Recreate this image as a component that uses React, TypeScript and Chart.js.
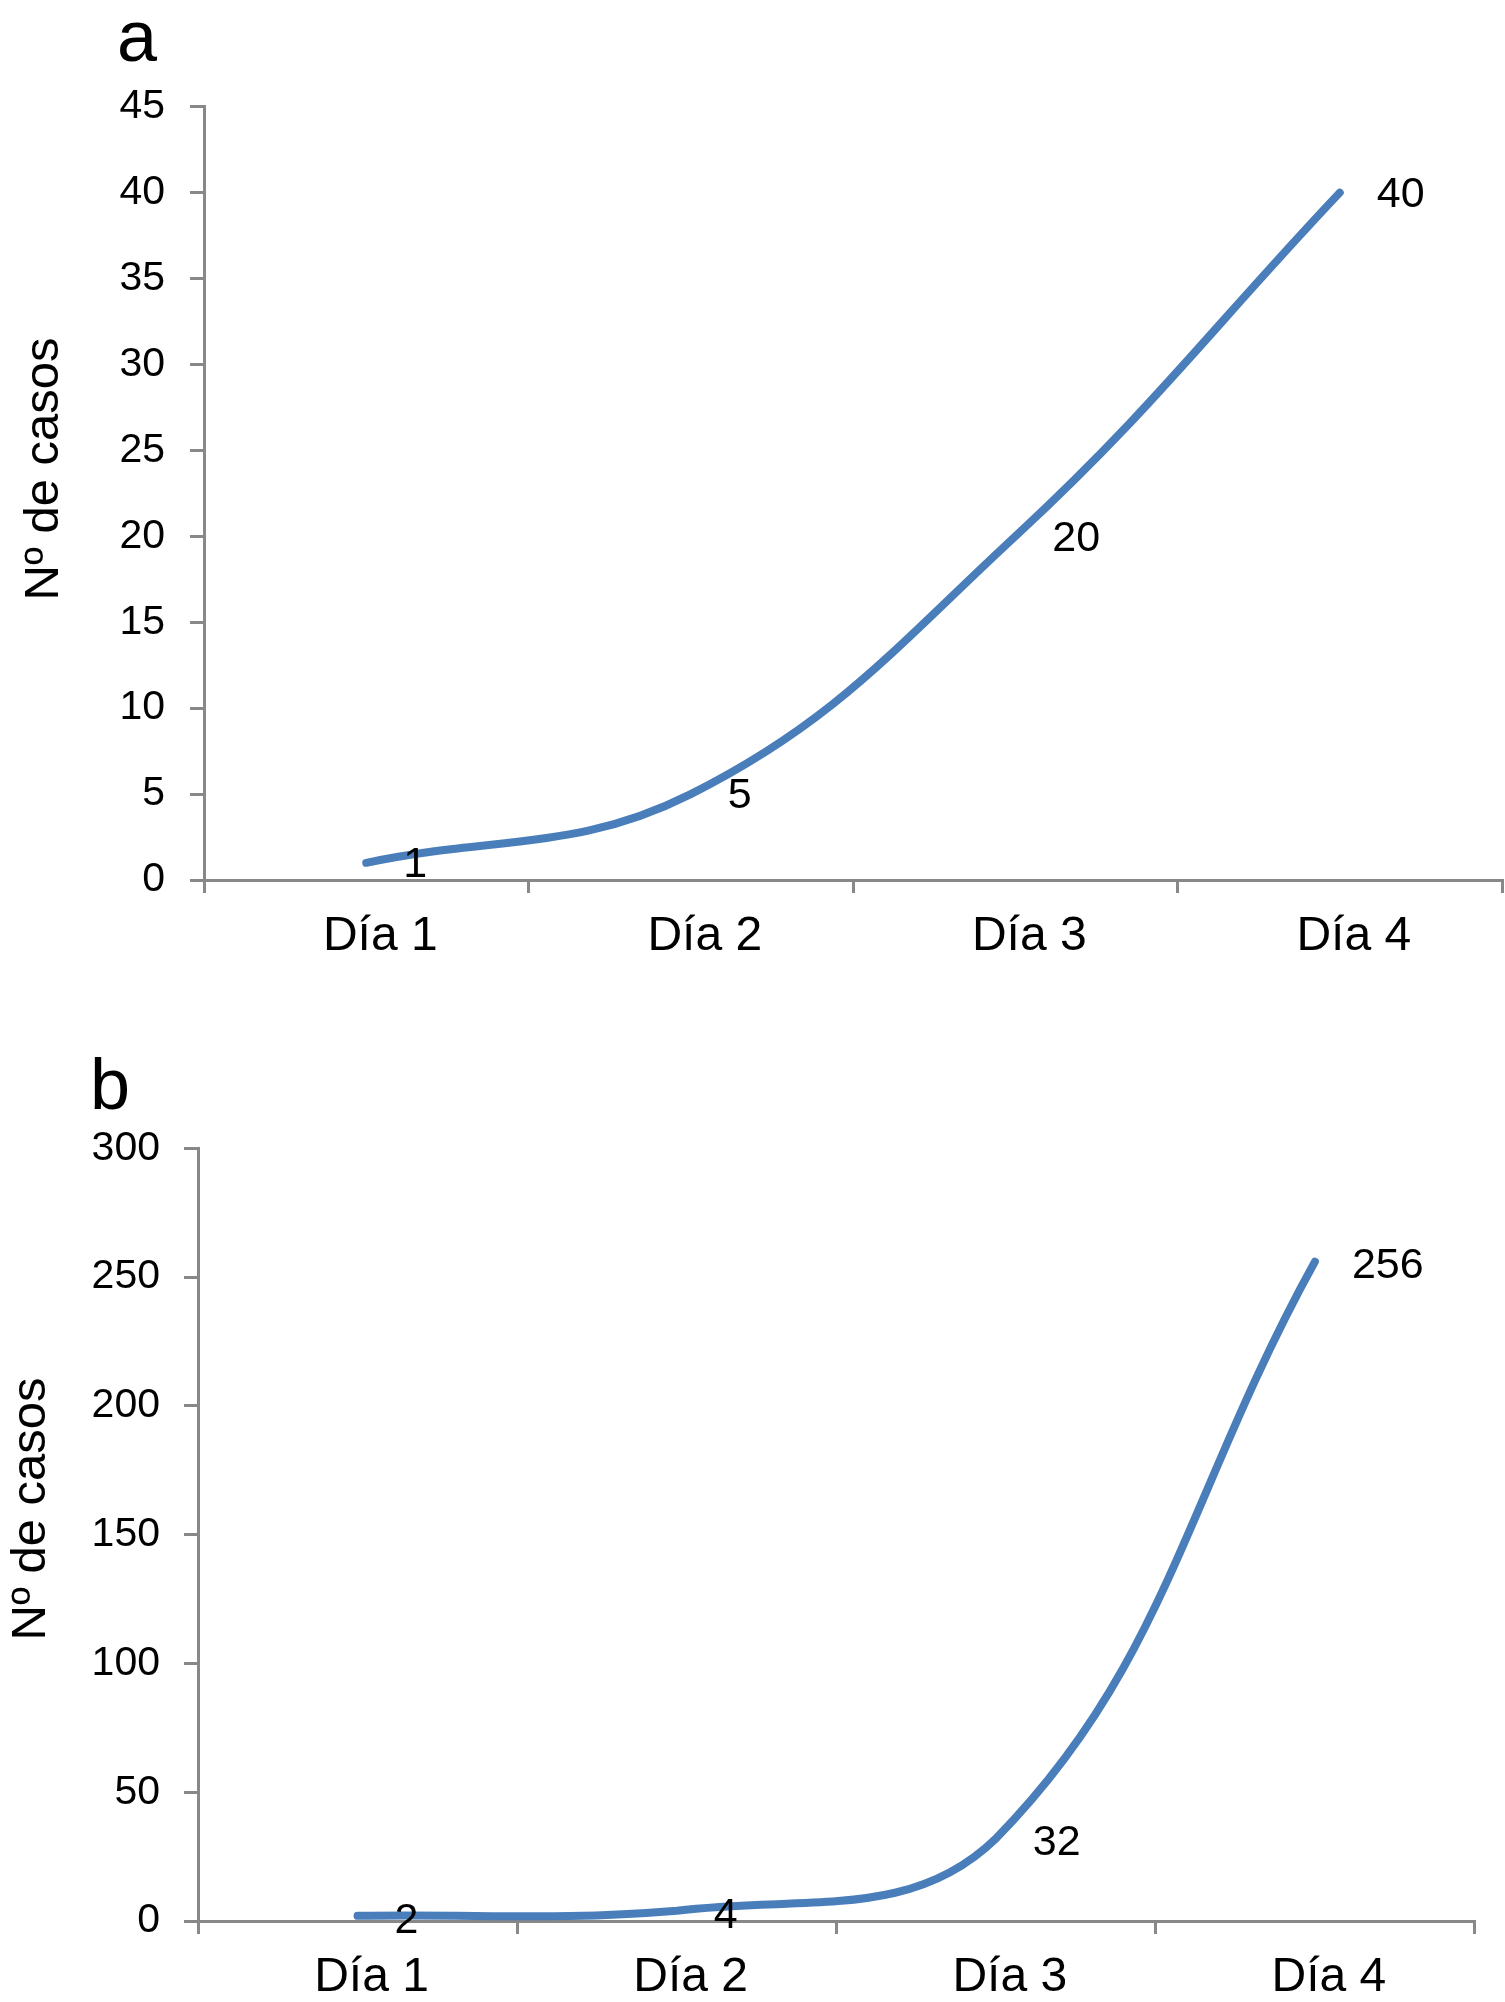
import React, { useEffect, useRef } from "react";
import { Chart, registerables } from "chart.js";

Chart.register(...registerables);

// ---------- data ----------
const categories = ["Día 1", "Día 2", "Día 3", "Día 4"];
const casesA = [1, 5, 20, 40];
const casesB = [2, 4, 32, 256];
const yAxisTitle = "Nº de casos";
const panelLetterA = "a";
const panelLetterB = "b";
const yMaxA = 45;
const yStepA = 5;
const yMaxB = 300;
const yStepB = 50;

const FONT = "'Liberation Sans', Arial, Helvetica, sans-serif";
const LINE_COLOR = "#4a7ebb";
const AXIS_COLOR = "#888888";

type PanelCfg = {
  letter: string;
  values: number[];
  yMax: number;
  yStep: number;
  canvasTop: number;
  canvasHeight: number;
  yAxisWidth: number;
  xAxisHeight: number;
  padTop: number;
  padRight: number;
  letterX: number;
  letterY: number;
  titleX: number;
  titleY: number;
  yTickPad: number;
  labelDy: number;
};

const panels: PanelCfg[] = [
  {
    letter: panelLetterA,
    values: casesA,
    yMax: yMaxA,
    yStep: yStepA,
    canvasTop: 0,
    canvasHeight: 1000,
    yAxisWidth: 204,
    xAxisHeight: 120,
    padTop: 106.7,
    padRight: 3,
    letterX: 117,
    letterY: 60.5,
    titleX: 58,
    titleY: 469,
    yTickPad: 25,
    labelDy: 2.5,
  },
  {
    letter: panelLetterB,
    values: casesB,
    yMax: yMaxB,
    yStep: yStepB,
    canvasTop: 1000,
    canvasHeight: 1002,
    yAxisWidth: 198,
    xAxisHeight: 81,
    padTop: 148.3,
    padRight: 30.5,
    letterX: 90,
    letterY: 109,
    titleX: 45,
    titleY: 509,
    yTickPad: 24,
    labelDy: 5,
  },
];

function Panel({ cfg }: { cfg: PanelCfg }) {
  const ref = useRef<HTMLCanvasElement | null>(null);

  useEffect(() => {
    if (!ref.current) return;
    const overlay = {
      id: "overlay",
      afterDatasetsDraw(chart: any) {
        const ctx = chart.ctx;
        const meta = chart.getDatasetMeta(0);
        ctx.save();
        ctx.fillStyle = "#000";
        ctx.font = `43px ${FONT}`;
        ctx.textAlign = "left";
        ctx.textBaseline = "middle";
        meta.data.forEach((pt: any, i: number) => {
          ctx.fillText(String(cfg.values[i]), pt.x + 37, pt.y + cfg.labelDy);
        });
        ctx.restore();
      },
      afterDraw(chart: any) {
        const ctx = chart.ctx;
        ctx.save();
        ctx.fillStyle = "#000";
        ctx.font = `72px ${FONT}`;
        ctx.textAlign = "left";
        ctx.textBaseline = "alphabetic";
        ctx.fillText(cfg.letter, cfg.letterX, cfg.letterY);
        ctx.translate(cfg.titleX, cfg.titleY);
        ctx.rotate(-Math.PI / 2);
        ctx.font = `49px ${FONT}`;
        ctx.textAlign = "center";
        ctx.fillText(yAxisTitle, 0, 0);
        ctx.restore();
      },
    };

    const chart = new Chart(ref.current, {
      type: "line",
      data: {
        labels: categories,
        datasets: [
          {
            data: cfg.values,
            borderColor: LINE_COLOR,
            backgroundColor: LINE_COLOR,
            borderWidth: 8,
            borderCapStyle: "round",
            borderJoinStyle: "round",
            pointRadius: 0,
            tension: 0.4,
            fill: false,
          },
        ],
      },
      options: {
        animation: false,
        responsive: false,
        devicePixelRatio: 1,
        layout: {
          padding: { top: cfg.padTop, right: cfg.padRight, bottom: 0, left: 0 },
        },
        plugins: {
          legend: { display: false },
          tooltip: { enabled: false },
          title: { display: false },
        },
        scales: {
          x: {
            type: "category",
            offset: true,
            grid: {
              offset: true,
              drawOnChartArea: false,
              drawTicks: true,
              tickLength: 13,
              color: AXIS_COLOR,
              lineWidth: 3,
            },
            border: { display: true, color: AXIS_COLOR, width: 3 },
            ticks: {
              color: "#000",
              font: { family: FONT, size: 48, lineHeight: 1.2 },
              padding: 14.5,
              labelOffset: 14,
              maxRotation: 0,
              autoSkip: false,
            },
            afterFit: (scale: any) => {
              scale.height = cfg.xAxisHeight;
            },
          },
          y: {
            min: 0,
            max: cfg.yMax,
            grid: {
              drawOnChartArea: false,
              drawTicks: true,
              tickLength: 14,
              color: AXIS_COLOR,
              lineWidth: 3,
            },
            border: { display: true, color: AXIS_COLOR, width: 3 },
            ticks: {
              stepSize: cfg.yStep,
              color: "#000",
              font: { family: FONT, size: 41 },
              padding: cfg.yTickPad,
            },
            afterFit: (scale: any) => {
              scale.width = cfg.yAxisWidth;
            },
          },
        },
      },
      plugins: [overlay],
    } as any);

    return () => chart.destroy();
  }, [cfg]);

  return (
    <canvas
      ref={ref}
      width={1505}
      height={cfg.canvasHeight}
      style={{
        position: "absolute",
        left: 0,
        top: cfg.canvasTop,
        width: 1505,
        height: cfg.canvasHeight,
        display: "block",
      }}
    />
  );
}

export default function App() {
  return (
    <div
      style={{
        position: "absolute",
        left: 0,
        top: 0,
        width: 1505,
        height: 2002,
        background: "#fff",
        overflow: "hidden",
      }}
    >
      {panels.map((p) => (
        <Panel key={p.letter} cfg={p} />
      ))}
    </div>
  );
}
